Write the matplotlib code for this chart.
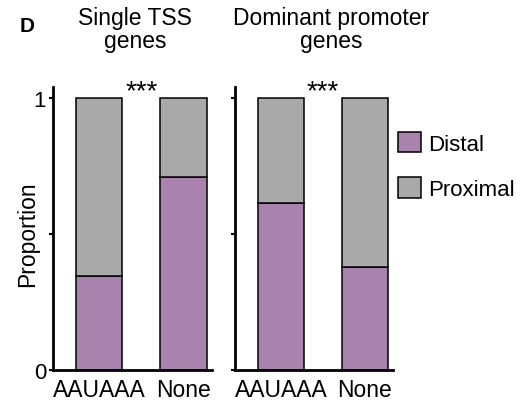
import numpy as np
import matplotlib
matplotlib.use('Agg')
import matplotlib.pyplot as plt

plt.rcParams['font.family'] = ['Liberation Sans', 'DejaVu Sans']

categories = ['AAUAAA', 'None']
panel_titles = ['Single TSS\ngenes', 'Dominant promoter\ngenes']
distal = [[0.346, 0.71], [0.614, 0.379]]
series_names = ['Distal', 'Proximal']
significance = ['***', '***']

PURPLE = '#a983ad'
GREY = '#a9a9a9'

W, H = 526, 406
fig = plt.figure(figsize=(W / 100, H / 100), dpi=100)

# axes boxes in pixels: left, width
boxes = [(53, 159), (235, 158)]
y_top_px, y_bot_px = 88, 371
x_centers = np.arange(len(categories))

axes = []
for i, (left, width) in enumerate(boxes):
    ax = fig.add_axes([left / W, 1 - y_bot_px / H, width / W, (y_bot_px - y_top_px) / H])
    d = np.array(distal[i])
    p = 1 - d
    ax.bar(x_centers, d, width=0.55, color=PURPLE, edgecolor='black', linewidth=1.1,
           label=series_names[0])
    ax.bar(x_centers, p, bottom=d, width=0.55, color=GREY, edgecolor='black', linewidth=1.1,
           label=series_names[1])
    ax.set_xlim(-0.55, 1.34)
    ax.set_ylim(0, 1.04)
    ax.set_xticks(x_centers)
    ax.set_xticklabels(categories, fontsize=16.5)
    ax.tick_params(axis='x', length=0, pad=6)
    ax.set_yticks([0, 0.5, 1])
    ax.tick_params(axis='y', direction='out', length=3, width=1.5, pad=2, labelsize=16)
    if i == 0:
        ax.set_yticklabels(['0', '', '1'])
        ax.set_ylabel('Proportion', fontsize=16.5)
        ax.yaxis.set_label_coords(-0.09, 0.484)
    else:
        ax.set_yticklabels([])
    for side in ('top', 'right'):
        ax.spines[side].set_visible(False)
    for side in ('left', 'bottom'):
        ax.spines[side].set_linewidth(2)
    ax.text(0.5, 0.976, significance[i], ha='center', va='bottom', fontsize=20)
    axes.append(ax)

# panel titles and letter
fig.text(135 / W, 1 - 30 / H, panel_titles[0], ha='center', va='center', fontsize=16.5,
         linespacing=0.95)
fig.text(331 / W, 1 - 30 / H, panel_titles[1], ha='center', va='center', fontsize=16.5,
         linespacing=0.95)
fig.text(20 / W, 1 - 27 / H, 'D', ha='left', va='center', fontsize=15, fontweight='bold')

handles, labels = axes[1].get_legend_handles_labels()
fig.legend(handles, labels, loc='upper left', bbox_to_anchor=(398 / W, 1 - 133 / H),
           frameon=False, fontsize=16, handlelength=1.04, handleheight=1.04,
           handletextpad=0.3, labelspacing=1.0, borderpad=0, borderaxespad=0)

fig.savefig('out.png', dpi=100)
